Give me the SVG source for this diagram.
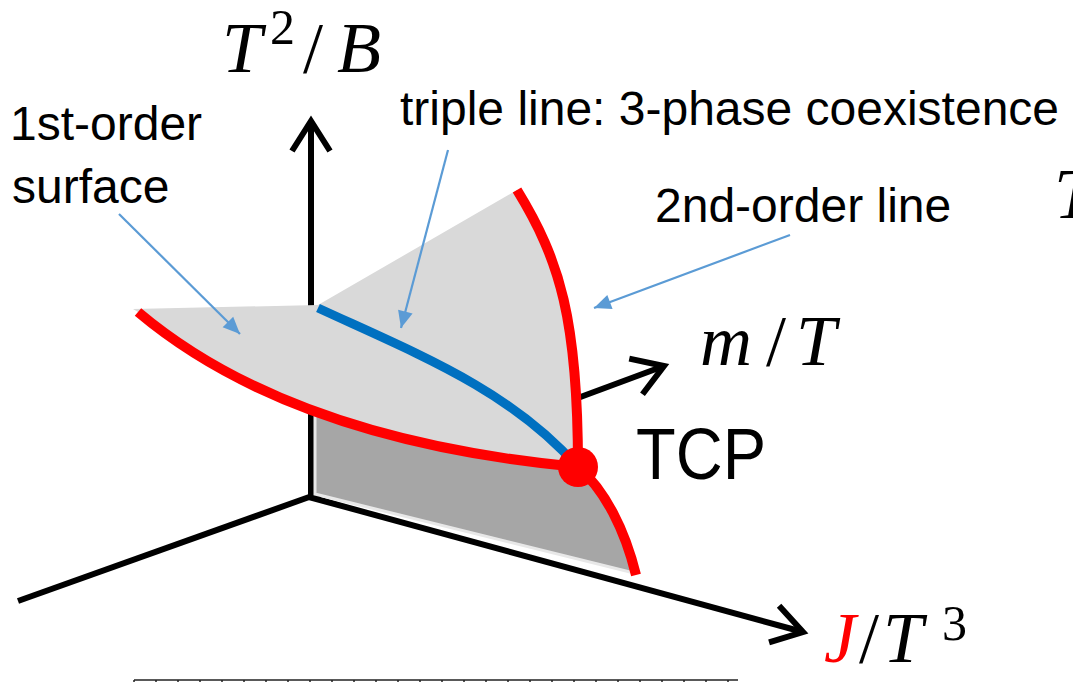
<svg xmlns="http://www.w3.org/2000/svg" width="1073" height="682" viewBox="0 0 1073 682">
<style>
.ax{fill:none;stroke:#000;stroke-width:6;stroke-linecap:butt}
.red{fill:none;stroke:#ff0000;stroke-width:10}
.blue{fill:none;stroke:#0070c0;stroke-width:9}
.ptr{fill:none;stroke:#5b9bd5;stroke-width:2.2}
.lbl{font-family:"Liberation Sans",Arial,sans-serif;fill:#000}
.math{font-family:"Liberation Serif","Times New Roman",serif;fill:#000}
</style>
<defs>
<marker id="chev" markerUnits="userSpaceOnUse" viewBox="-40 -30 50 60" refX="0" refY="0" markerWidth="50" markerHeight="60" orient="auto" overflow="visible">
<path d="M-30,-19 L0,0 L-30,19" fill="none" stroke="#000" stroke-width="6" stroke-linejoin="miter"/>
</marker>
<marker id="tri" markerUnits="userSpaceOnUse" viewBox="-18 -9 20 18" refX="0" refY="0" markerWidth="20" markerHeight="18" orient="auto" overflow="visible">
<path d="M-17,-7.5 L0,0 L-17,7.5 Z" fill="#5b9bd5"/>
</marker>
</defs>
<rect width="1073" height="682" fill="#fff"/>
<g id="axes">
<line class="ax" x1="18" y1="601" x2="312" y2="496"/>
<line class="ax" x1="311" y1="497" x2="311" y2="121" marker-end="url(#chev)"/>
<line class="ax" x1="309" y1="497" x2="803" y2="632" marker-end="url(#chev)"/>
<line class="ax" x1="311" y1="497" x2="664" y2="366" marker-end="url(#chev)"/>
</g>
<g id="surfaces">
<path id="surface-1st" d="M133,309 L318,305 L517,190 C560,260 578,320 578,467 Q290,440 138,312 Z" fill="#d9d9d9"/>
<path id="surface-lower" d="M315,412 L315,494 L634,573 C625,530 605,490 578,467 C480,460 380,440 315,412 Z" fill="#a6a6a6" stroke="#e8e8e8" stroke-width="3"/>
</g>
<g id="lines">
<path id="first-order-line" class="red" d="M138,312 Q290,440 578,467"/>
<path id="second-order-line" class="red" d="M517,190 C560,260 578,320 578,467 C605,490 625,530 636,575"/>
<path id="triple-line" class="blue" d="M318,308 C420,355 510,390 578,467"/>
<circle id="tcp" cx="578" cy="467" r="20" fill="#ff0000"/>
</g>
<g id="connectors">
<line class="ptr" x1="119" y1="214" x2="240" y2="334" marker-end="url(#tri)"/>
<line class="ptr" x1="448" y1="150" x2="401" y2="328" marker-end="url(#tri)"/>
<line class="ptr" x1="790" y1="235" x2="594" y2="308" marker-end="url(#tri)"/>
</g>
<g id="labels">
<text class="math" y="72" font-size="72"><tspan x="222" font-style="italic">T</tspan><tspan x="270" y="44" font-size="50">2</tspan><tspan x="303" y="72">/</tspan><tspan x="337" font-style="italic">B</tspan></text>
<text class="math" y="365" font-size="72"><tspan x="700" font-style="italic">m</tspan><tspan x="766">/</tspan><tspan x="796" font-style="italic">T</tspan></text>
<text class="math" y="662" font-size="72"><tspan x="824" font-style="italic" fill="#ff0000">J</tspan><tspan x="859">/</tspan><tspan x="883" font-style="italic">T</tspan><tspan x="942" y="640" font-size="50">3</tspan></text>
<text class="math" x="1054" y="218" font-size="72" font-style="italic">T</text>
<text class="lbl" x="10" y="140" font-size="48">1st-order</text>
<text class="lbl" x="12" y="203" font-size="48">surface</text>
<text class="lbl" x="400" y="125" font-size="48">triple line: 3-phase coexistence</text>
<text class="lbl" x="655" y="222" font-size="48">2nd-order line</text>
<text class="lbl" x="636" y="479" font-size="72" textLength="130" lengthAdjust="spacingAndGlyphs">TCP</text>
</g>
<g id="bottom-rule" stroke="#222" stroke-width="1.5">
<line x1="134" y1="680" x2="738" y2="680"/>
<path d="M134,680V682M156,680V682M178,680V682M200,680V682M222,680V682M244,680V682M266,680V682M288,680V682M310,680V682M332,680V682M354,680V682M376,680V682M398,680V682M420,680V682M442,680V682M464,680V682M486,680V682M508,680V682M530,680V682M552,680V682M574,680V682M596,680V682M618,680V682M640,680V682M662,680V682M684,680V682M706,680V682M728,680V682"/>
</g>
</svg>
